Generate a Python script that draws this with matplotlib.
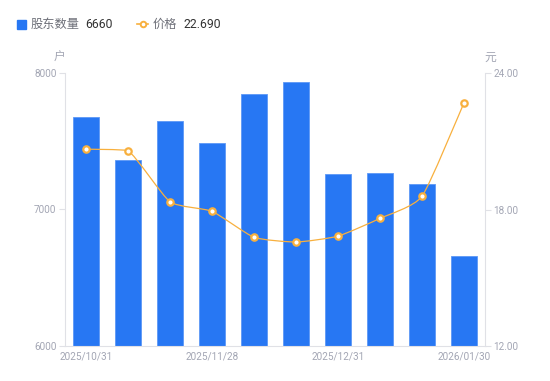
import matplotlib
matplotlib.use("Agg")
import matplotlib.pyplot as plt
from matplotlib.lines import Line2D
from matplotlib.path import Path
from matplotlib.patches import PathPatch

plt.rcParams['font.family'] = ['Roboto', 'Noto Sans CJK SC', 'DejaVu Sans']

dates = ["2025/10/31", "2025/11/07", "2025/11/14", "2025/11/28", "2025/12/05",
         "2025/12/12", "2025/12/31", "2026/01/09", "2026/01/16", "2026/01/30"]
holders = [7678, 7363, 7648, 7487, 7846, 7934, 7260, 7267, 7187, 6660]
price = [20.65, 20.59, 18.34, 17.92, 16.78, 16.57, 16.83, 17.61, 18.58, 22.69]
tick_idx = [0, 3, 6, 9]
tick_labels = ["2025/10/31", "2025/11/28", "2025/12/31", "2026/01/30"]
left_ticks = [6000, 7000, 8000]
right_ticks = [12.00, 18.00, 24.00]

bar_color = '#2777F3'
line_color = '#F8B03E'
grey = '#A3A6B4'
axis_col = '#E0E1E6'
cjk = ['Noto Sans CJK SC', 'DejaVu Sans']

fig = plt.figure(figsize=(5.5, 3.81), dpi=100)
ax = fig.add_axes([65/550, 1-346/381, 420/550, 273/381])
ax2 = ax.twinx()

x = list(range(len(holders)))
ax.bar(x, holders, width=0.6, color=bar_color, edgecolor='#5D98F6', linewidth=0.6, zorder=2)
ax.set_ylim(6000, 8000)
ax.set_xlim(-0.5, len(holders)-0.5)
ax.set_yticks(left_ticks)
ax.set_yticklabels([str(v) for v in left_ticks])
ax.set_xticks(tick_idx)
ax.set_xticklabels(tick_labels)

# mildly smoothed line through price points (cubic Bezier, constrained)
s = 0.18
n = len(price)
def clamp(v, a, b):
    return max(min(a, b), min(max(a, b), v))
verts = [(x[0], price[0])]
codes = [Path.MOVETO]
for i in range(n - 1):
    xp, yp = (x[i-1], price[i-1]) if i > 0 else (x[i], price[i])
    xn2, yn2 = (x[i+2], price[i+2]) if i + 2 < n else (x[i+1], price[i+1])
    c1 = (x[i] + (x[i+1] - xp) * s / 2,
          clamp(price[i] + (price[i+1] - yp) * s / 2, price[i], price[i+1]))
    c2 = (x[i+1] - (xn2 - x[i]) * s / 2,
          clamp(price[i+1] - (yn2 - price[i]) * s / 2, price[i], price[i+1]))
    verts += [c1, c2, (x[i+1], price[i+1])]
    codes += [Path.CURVE4, Path.CURVE4, Path.CURVE4]
ax2.add_patch(PathPatch(Path(verts, codes), facecolor='none', edgecolor=line_color,
                        linewidth=0.9, zorder=3))
ax2.plot(x, price, linestyle='none', marker='o', markersize=4.6,
         markerfacecolor='white', markeredgecolor=line_color, markeredgewidth=1.6, zorder=4)
ax2.set_ylim(12, 24)
ax2.set_yticks(right_ticks)
ax2.set_yticklabels([f"{v:.2f}" for v in right_ticks])

for a in (ax, ax2):
    for sp in a.spines.values():
        sp.set_visible(False)
ax.spines['left'].set_visible(True)
ax.spines['left'].set_color(axis_col)
ax.spines['bottom'].set_visible(True)
ax.spines['bottom'].set_color(axis_col)
ax2.spines['right'].set_visible(True)
ax2.spines['right'].set_color(axis_col)

ax.tick_params(axis='y', colors=axis_col, labelcolor=grey, labelsize=7.2, length=4, width=0.8, pad=2)
ax.tick_params(axis='x', length=0, labelcolor=grey, labelsize=7.2, pad=4)
ax2.tick_params(axis='y', colors=axis_col, labelcolor=grey, labelsize=7.2, length=4, width=0.8, pad=2)

fig.text(59/550, 1-57/381, "户", color=grey, fontsize=8.5, ha='center', va='center', family=cjk)
fig.text(490/550, 1-57/381, "元", color=grey, fontsize=8.5, ha='center', va='center', family=cjk)

# legend
fig.patches.append(plt.Rectangle((17/550, 1-28.5/381), 8.5/550, 8.5/381, transform=fig.transFigure,
                                 color=bar_color, figure=fig))
fig.text(31/550, 1-24/381, "股东数量", color='#6E7079', fontsize=8.8, va='center', ha='left', family=cjk)
fig.text(85/550, 1-24/381, str(holders[-1]), color='#333333', fontsize=8.8, va='center', ha='left')
fig.lines.append(Line2D([137/550, 148/550], [1-24/381, 1-24/381], transform=fig.transFigure,
                        color=line_color, linewidth=1.2, figure=fig))
fig.lines.append(Line2D([142.5/550], [1-24/381], transform=fig.transFigure, linestyle='none',
                        marker='o', markersize=4, markerfacecolor='white', markeredgecolor=line_color,
                        markeredgewidth=1.4, figure=fig))
fig.text(153/550, 1-24/381, "价格", color='#6E7079', fontsize=8.8, va='center', ha='left', family=cjk)
fig.text(183/550, 1-24/381, f"{price[-1]:.3f}", color='#333333', fontsize=8.8, va='center', ha='left')

fig.savefig("out.png", dpi=100)
